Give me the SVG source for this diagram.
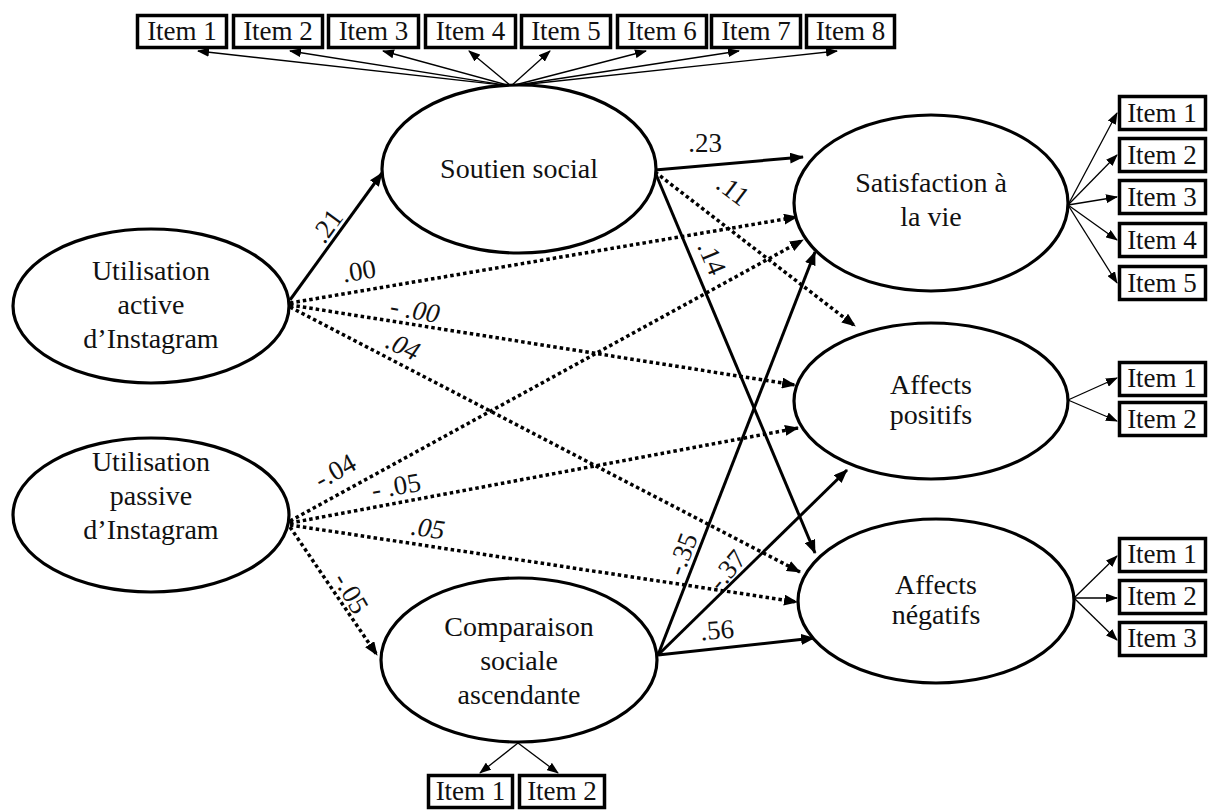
<svg xmlns="http://www.w3.org/2000/svg" width="1208" height="811" viewBox="0 0 1208 811">
<defs>
<marker id="ah" viewBox="0 0 14 11" refX="13" refY="5.5" markerWidth="14" markerHeight="11" markerUnits="userSpaceOnUse" orient="auto"><path d="M0,0 L14,5.5 L0,11 z" fill="#000"/></marker>
<marker id="ahs" viewBox="0 0 12 9" refX="11" refY="4.5" markerWidth="12" markerHeight="9" markerUnits="userSpaceOnUse" orient="auto"><path d="M0,0 L12,4.5 L0,9 z" fill="#000"/></marker>
<style>
.el{fill:#fff;stroke:#000;stroke-width:3.2}
.box{fill:#fff;stroke:#000;stroke-width:3.5}
.t{font-family:"Liberation Serif","Times New Roman",serif;font-size:28px;fill:#111;text-anchor:middle}
.it{font-family:"Liberation Serif","Times New Roman",serif;font-size:27px;fill:#111;text-anchor:middle}
.lb{font-family:"Liberation Serif","Times New Roman",serif;font-size:27px;fill:#111;text-anchor:middle}
.i{font-style:italic}
.s{fill:none;stroke:#000;stroke-width:3;marker-end:url(#ah)}
.d{fill:none;stroke:#000;stroke-width:3.5;stroke-dasharray:3.5 3;marker-end:url(#ah)}
.th{fill:none;stroke:#000;stroke-width:1.3;marker-end:url(#ahs)}
</style>
</defs>
<rect width="1208" height="811" fill="#fff"/>

<g id="connectors">
<!-- indicator arrows: Soutien social -->
<line class="th" x1="511" y1="86" x2="198" y2="51"/>
<line class="th" x1="511" y1="86" x2="290" y2="51"/>
<line class="th" x1="511" y1="86" x2="383" y2="51"/>
<line class="th" x1="511" y1="86" x2="469" y2="51"/>
<line class="th" x1="511" y1="86" x2="550" y2="51"/>
<line class="th" x1="511" y1="86" x2="646" y2="51"/>
<line class="th" x1="511" y1="86" x2="739" y2="51"/>
<line class="th" x1="511" y1="86" x2="837" y2="51"/>
<!-- Satisfaction items -->
<line class="th" x1="1068" y1="205" x2="1117" y2="113"/>
<line class="th" x1="1068" y1="205" x2="1117" y2="155"/>
<line class="th" x1="1068" y1="205" x2="1117" y2="197"/>
<line class="th" x1="1068" y1="205" x2="1117" y2="240"/>
<line class="th" x1="1068" y1="205" x2="1117" y2="283"/>
<!-- positifs items -->
<line class="th" x1="1068" y1="400" x2="1117" y2="378"/>
<line class="th" x1="1068" y1="400" x2="1117" y2="421"/>
<!-- negatifs items -->
<line class="th" x1="1074" y1="598" x2="1117" y2="556"/>
<line class="th" x1="1074" y1="598" x2="1117" y2="598"/>
<line class="th" x1="1074" y1="598" x2="1117" y2="640"/>
<!-- comparaison items -->
<line class="th" x1="518" y1="743" x2="480" y2="773"/>
<line class="th" x1="518" y1="743" x2="558" y2="773"/>

<!-- structural paths -->
<line class="s" x1="290" y1="300" x2="382" y2="173"/>
<line class="s" x1="655" y1="170" x2="803" y2="157"/>
<line class="d" x1="655" y1="172" x2="855" y2="326"/>
<line class="s" x1="655" y1="172" x2="815" y2="553"/>
<line class="d" x1="290" y1="303" x2="797" y2="217"/>
<line class="d" x1="290" y1="305" x2="795" y2="385"/>
<line class="d" x1="290" y1="307" x2="800" y2="572"/>
<line class="d" x1="290" y1="521" x2="803" y2="240"/>
<line class="d" x1="290" y1="523" x2="798" y2="428"/>
<line class="d" x1="290" y1="525" x2="797" y2="602"/>
<line class="d" x1="290" y1="527" x2="377" y2="655"/>
<line class="s" x1="658" y1="655" x2="815" y2="252"/>
<line class="s" x1="658" y1="655" x2="847" y2="470"/>
<line class="s" x1="658" y1="655" x2="814" y2="638"/>

<!-- path labels -->
<text class="lb" transform="translate(327,226) rotate(-54)" y="9">.21</text>
<text class="lb" x="705" y="152">.23</text>
<text class="lb" transform="translate(733,190) rotate(37)" y="9">.11</text>
<text class="lb" transform="translate(712,258) rotate(67)" y="9">.14</text>
<text class="lb" transform="translate(359,271) rotate(-9)" y="9">.00</text>
<text class="lb i" transform="translate(415,310) rotate(10)" y="9">- .00</text>
<text class="lb i" transform="translate(403,346) rotate(25)" y="9">.04</text>
<text class="lb" transform="translate(335,471) rotate(-29)" y="9">-.04</text>
<text class="lb" transform="translate(396,486) rotate(-10)" y="9">- .05</text>
<text class="lb i" transform="translate(428,528) rotate(8)" y="9">.05</text>
<text class="lb" transform="translate(351,593) rotate(60)" y="9">-.05</text>
<text class="lb" transform="translate(682,554) rotate(-69)" y="9">-.35</text>
<text class="lb" transform="translate(727,570) rotate(-50)" y="9">-.37</text>
<text class="lb" transform="translate(717,630) rotate(-5)" y="9">.56</text>
</g>

<g id="node-active">
<ellipse class="el" cx="151" cy="306" rx="138" ry="77"/>
<text class="t" x="151" y="280">Utilisation</text>
<text class="t" x="151" y="314">active</text>
<text class="t" x="151" y="348">d’Instagram</text>
</g>
<g id="node-passive">
<ellipse class="el" cx="151" cy="515" rx="138" ry="77"/>
<text class="t" x="151" y="471">Utilisation</text>
<text class="t" x="151" y="505">passive</text>
<text class="t" x="151" y="539">d’Instagram</text>
</g>
<g id="node-soutien">
<ellipse class="el" cx="519" cy="169" rx="137" ry="84"/>
<text class="t" x="519" y="178">Soutien social</text>
</g>
<g id="node-comparaison">
<ellipse class="el" cx="519" cy="660" rx="138" ry="82"/>
<text class="t" x="519" y="636">Comparaison</text>
<text class="t" x="519" y="670">sociale</text>
<text class="t" x="519" y="704">ascendante</text>
</g>
<g id="node-satisfaction">
<ellipse class="el" cx="931" cy="203" rx="137" ry="88"/>
<text class="t" x="931" y="192">Satisfaction à</text>
<text class="t" x="931" y="226">la vie</text>
</g>
<g id="node-positifs">
<ellipse class="el" cx="931" cy="401" rx="137" ry="78"/>
<text class="t" x="931" y="394">Affects</text>
<text class="t" x="931" y="424">positifs</text>
</g>
<g id="node-negatifs">
<ellipse class="el" cx="936" cy="601" rx="138" ry="82"/>
<text class="t" x="936" y="594">Affects</text>
<text class="t" x="936" y="624">négatifs</text>
</g>

<g id="items-soutien">
<rect class="box" x="137.5" y="15.5" width="89" height="32"/><text class="it" x="182" y="40">Item 1</text>
<rect class="box" x="233.5" y="15.5" width="89" height="32"/><text class="it" x="278" y="40">Item 2</text>
<rect class="box" x="328.5" y="15.5" width="90" height="32"/><text class="it" x="373.5" y="40">Item 3</text>
<rect class="box" x="425.5" y="15.5" width="90" height="32"/><text class="it" x="470.5" y="40">Item 4</text>
<rect class="box" x="521.5" y="15.5" width="89" height="32"/><text class="it" x="566" y="40">Item 5</text>
<rect class="box" x="617.5" y="15.5" width="89" height="32"/><text class="it" x="662" y="40">Item 6</text>
<rect class="box" x="711.5" y="15.5" width="89" height="32"/><text class="it" x="756" y="40">Item 7</text>
<rect class="box" x="806.5" y="15.5" width="88" height="32"/><text class="it" x="850.5" y="40">Item 8</text>
</g>
<g id="items-satisfaction">
<rect class="box" x="1119.5" y="96.5" width="86" height="33"/><text class="it" x="1162" y="122">Item 1</text>
<rect class="box" x="1119.5" y="138.5" width="86" height="33"/><text class="it" x="1162" y="164">Item 2</text>
<rect class="box" x="1119.5" y="180.5" width="86" height="33"/><text class="it" x="1162" y="206">Item 3</text>
<rect class="box" x="1119.5" y="223.5" width="86" height="33"/><text class="it" x="1162" y="249">Item 4</text>
<rect class="box" x="1119.5" y="266.5" width="86" height="33"/><text class="it" x="1162" y="292">Item 5</text>
</g>
<g id="items-positifs">
<rect class="box" x="1119.5" y="362.5" width="86" height="33"/><text class="it" x="1162" y="387">Item 1</text>
<rect class="box" x="1119.5" y="402.5" width="86" height="33"/><text class="it" x="1162" y="428">Item 2</text>
</g>
<g id="items-negatifs">
<rect class="box" x="1119.5" y="538.5" width="86" height="33"/><text class="it" x="1162" y="563">Item 1</text>
<rect class="box" x="1119.5" y="580.5" width="86" height="33"/><text class="it" x="1162" y="605">Item 2</text>
<rect class="box" x="1119.5" y="622.5" width="86" height="33"/><text class="it" x="1162" y="647">Item 3</text>
</g>
<g id="items-comparaison">
<rect class="box" x="428.5" y="775.5" width="84" height="32"/><text class="it" x="470.5" y="800">Item 1</text>
<rect class="box" x="519.5" y="775.5" width="85" height="32"/><text class="it" x="562" y="800">Item 2</text>
</g>
</svg>
